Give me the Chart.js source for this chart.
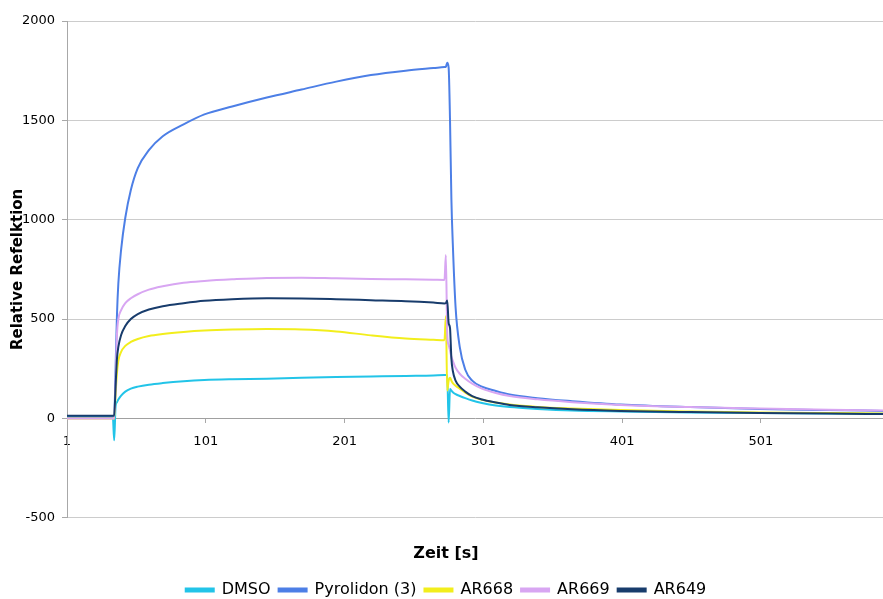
<!DOCTYPE html>
<html>
<head>
<meta charset="utf-8">
<script src="https://cdn.jsdelivr.net/npm/chart.js@4.4.1/dist/chart.umd.min.js"></script>
<style>
  html, body { margin: 0; padding: 0; background: #fff; }
</style>
</head>
<body>
<canvas id="myChart" width="883" height="599"></canvas>
<script>
// Zeit [s] - gemeinsame Stuetzpunkte fuer alle Kurven
var tiempos = [1, 34, 35, 36, 37, 38, 40, 43, 47, 52, 60, 70, 85, 100, 120, 145, 170, 195, 220, 245, 265,
               273, 274, 275, 276, 277, 278, 279, 281, 284, 288, 293, 300, 310, 320, 340, 365, 400, 450, 500, 550, 589];

var dmso      = [10, 10, -110, 60, 82, 95, 115, 135, 150, 160, 170, 178, 187, 193, 197, 200, 205, 208, 211, 214, 216,
                 218, 218, 217, -20, 148, 140, 132, 122, 113, 102, 90, 78, 65, 57, 48, 40, 35, 30, 27, 25, 23];
var pyrolidon = [3, 3, 3, 250, 520, 680, 850, 1010, 1150, 1260, 1350, 1420, 1480, 1530, 1570, 1615, 1655, 1695, 1728, 1750, 1763,
                 1768, 1770, 1790, 1765, 1500, 1100, 880, 560, 360, 245, 190, 160, 138, 120, 102, 87, 70, 57, 48, 42, 38];
var ar668     = [0, 0, 0, 120, 230, 290, 335, 365, 385, 400, 415, 425, 435, 442, 447, 450, 448, 438, 418, 402, 396,
                 394, 514, 140, 190, 205, 190, 178, 165, 150, 130, 110, 94, 80, 70, 58, 50, 42, 35, 30, 27, 25];
var ar669     = [0, 0, 0, 180, 420, 500, 545, 580, 605, 625, 648, 665, 683, 692, 700, 707, 708, 705, 702, 700, 698,
                 697, 822, 420, 370, 342, 310, 290, 255, 225, 200, 175, 150, 128, 113, 96, 82, 68, 57, 50, 44, 40];
var ar649     = [13, 13, 13, 160, 300, 360, 420, 465, 500, 525, 548, 565, 580, 592, 600, 605, 604, 600, 595, 590, 583,
                 579, 580, 594, 480, 455, 300, 240, 190, 160, 135, 112, 95, 80, 68, 56, 46, 38, 32, 28, 25, 22];

var nombres = ['DMSO', 'Pyrolidon (3)', 'AR668', 'AR669', 'AR649'];
var colores = ['#22c4e8', '#4d7fe6', '#f2ee1c', '#d8a6f2', '#183c6c'];

var xTicks = [1, 101, 201, 301, 401, 501];

var fuente = 'DejaVu Sans, Verdana, sans-serif';

function puntos(valores) {
  var p = [];
  for (var i = 0; i < tiempos.length; i++) {
    p[i] = { x: tiempos[i], y: valores[i] };
  }
  return p;
}

var series = [dmso, pyrolidon, ar668, ar669, ar649];
var datasets = [];
for (var i = 0; i < series.length; i++) {
  datasets[i] = {
    label: nombres[i],
    data: puntos(series[i]),
    borderColor: colores[i],
    backgroundColor: colores[i],
    borderWidth: 2,
    pointRadius: 0,
    cubicInterpolationMode: 'monotone',
    order: series.length - i   // spaetere Reihen oben zeichnen
  };
}

var graficar = document.getElementById('myChart');
var grafico = new Chart(graficar, {
  type: 'line',
  data: { datasets: datasets },
  options: {
    responsive: false,
    animation: false,
    layout: { padding: { top: 21, right: 0, bottom: -9, left: 9 } },
    scales: {
      x: {
        type: 'linear',
        position: { y: 0 },
        min: 1,
        max: 589,
        afterBuildTicks: function (eje) {
          eje.ticks = xTicks.map(function (v) { return { value: v }; });
        },
        grid: { drawOnChartArea: false, drawTicks: true, tickLength: 5, color: '#a8a8a8' },
        border: { display: false },
        ticks: { color: '#000', font: { family: fuente, size: 13 }, padding: 10, maxRotation: 0, autoSkip: false }
      },
      y: {
        min: -500,
        max: 2000,
        afterFit: function (eje) { eje.width = 58; },
        ticks: {
          stepSize: 500,
          color: '#000',
          font: { family: fuente, size: 13 },
          padding: 7,
          callback: function (v) { return String(v); }
        },
        grid: {
          color: function (ctx) {
            return ctx.tick && ctx.tick.value === 0 ? '#a0a0a0' : '#cccccc';
          },
          tickColor: '#a8a8a8',
          tickLength: 5
        },
        border: { color: '#a8a8a8', width: 1 },
        title: {
          display: true,
          text: 'Relative Refelktion',
          color: '#000',
          font: { family: fuente, size: 15, weight: 'bold' },
          padding: { top: 0, bottom: 0 }
        }
      }
    },
    plugins: {
      legend: {
        position: 'bottom',
        labels: {
          boxWidth: 28,
          boxHeight: 3,
          color: '#000',
          font: { family: fuente, size: 16 },
          padding: 8,
          sort: function (a, b) { return a.datasetIndex - b.datasetIndex; }
        }
      },
      title: {
        display: true,
        position: 'bottom',
        weight: 500,
        text: 'Zeit [s]',
        color: '#000',
        font: { family: fuente, size: 16, weight: 'bold' },
        padding: { top: 26, bottom: 11 }
      },
      tooltip: { enabled: false }
    }
  }
});
</script>
</body>
</html>
